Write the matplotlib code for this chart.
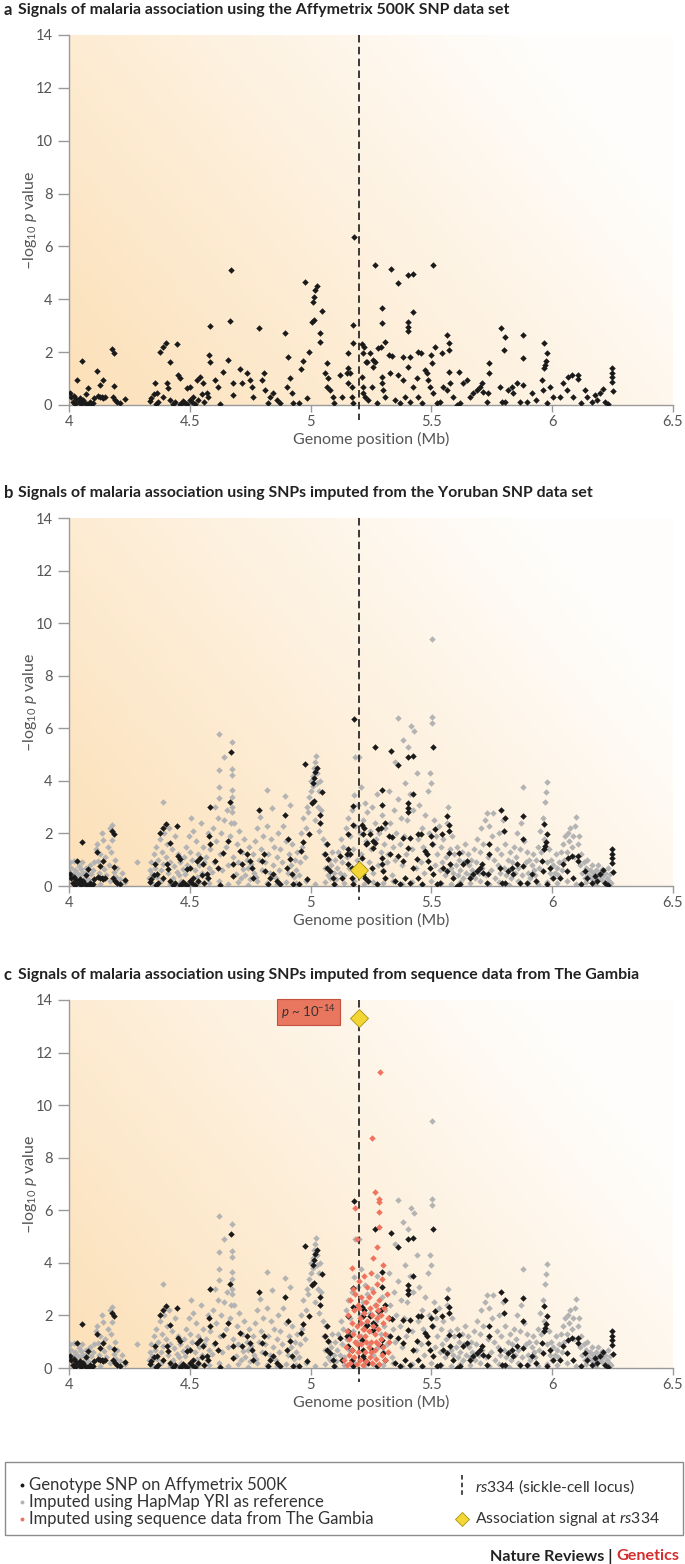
#!/usr/bin/python

# Malaria association signals around the sickle-cell locus
#
# Three stacked panels: Affymetrix 500K SNPs, then SNPs imputed from
# HapMap YRI, then SNPs imputed from Gambian sequence data.

import numpy as np
import matplotlib
matplotlib.use('Agg')
from matplotlib import pyplot as plt
from matplotlib.lines import Line2D
from matplotlib.patches import Rectangle

plt.rcParams['font.family'] = ['Lato', 'DejaVu Sans']
plt.rcParams['mathtext.fontset'] = 'custom'
plt.rcParams['mathtext.rm'] = 'Lato'
plt.rcParams['mathtext.it'] = 'Lato:italic'

# ---- data (genome position in Mb, -log10 p) ----

rs334_pos = 5.2
rs334_b = 0.6
rs334_c = 13.3

# genotyped SNPs on Affymetrix 500K (black, in every panel)
genotyped = [
    (4.004, 0.44), (4.01, 0.30), (4.015, 0.12), (4.02, 0.35), (4.025, 0.05), (4.03, 0.22),
    (4.034, 0.95), (4.04, 0.10), (4.045, 0.28), (4.05, 0.02), (4.052, 1.68), (4.055, 0.15),
    (4.06, 0.19), (4.065, 0.08), (4.07, 0.40), (4.075, 0.03), (4.08, 0.63), (4.085, 0.12),
    (4.09, 0.05), (4.10, 0.06), (4.105, 0.25), (4.117, 1.30), (4.12, 0.35), (4.128, 0.76),
    (4.13, 0.30), (4.135, 0.32), (4.142, 0.95), (4.14, 0.28), (4.15, 0.30), (4.177, 2.11),
    (4.188, 1.96), (4.186, 0.73), (4.183, 0.32), (4.19, 0.20), (4.20, 0.12), (4.21, 0.06),
    (4.232, 0.21),
    (4.335, 0.15), (4.34, 0.25), (4.35, 0.40), (4.356, 0.82), (4.36, 0.05), (4.363, 0.44),
    (4.37, 0.10), (4.377, 2.02), (4.388, 2.21), (4.39, 0.30), (4.401, 2.36), (4.404, 0.82),
    (4.411, 0.63), (4.418, 1.64), (4.42, 0.20), (4.43, 0.05), (4.44, 0.12), (4.446, 2.30),
    (4.452, 1.14), (4.459, 1.01), (4.46, 0.03), (4.466, 0.06), (4.47, 0.15), (4.48, 0.08),
    (4.487, 0.63), (4.49, 0.02), (4.50, 0.19), (4.501, 0.70), (4.51, 0.10), (4.514, 0.31),
    (4.52, 0.05), (4.528, 0.95), (4.535, 0.20), (4.542, 1.07), (4.55, 0.40), (4.556, 0.82),
    (4.56, 0.10), (4.57, 0.44), (4.575, 0.30),
    (4.581, 1.89), (4.584, 1.61), (4.584, 3.00), (4.604, 0.95), (4.618, 0.69), (4.625, 0.02),
    (4.639, 1.26), (4.659, 1.70), (4.666, 3.18), (4.67, 5.11), (4.68, 0.82), (4.68, 0.38),
    (4.708, 1.35), (4.715, 0.82), (4.735, 1.20), (4.749, 0.95), (4.756, 0.69), (4.763, 0.31),
    (4.786, 2.90), (4.797, 0.95), (4.807, 1.20), (4.811, 0.57), (4.825, 0.06), (4.832, 0.31),
    (4.846, 0.44), (4.859, 0.19), (4.873, 0.06), (4.894, 2.71), (4.901, 0.69), (4.905, 1.80),
    (4.915, 1.01), (4.922, 0.44), (4.929, 0.06), (4.95, 0.06), (4.96, 1.35), (4.97, 1.68),
    (4.977, 4.64), (4.984, 0.25), (4.993, 1.99), (5.005, 3.15), (5.009, 3.91), (5.014, 3.22),
    (5.015, 4.10), (5.018, 4.35), (5.025, 4.50), (5.039, 2.71), (5.039, 2.40), (5.046, 3.57),
    (5.06, 1.20), (5.067, 0.69), (5.066, 1.58), (5.074, 1.01), (5.08, 0.57), (5.092, 0.31),
    (5.097, 0.06), (5.121, 1.14), (5.128, 0.31),
    (5.181, 6.37), (5.177, 3.03), (5.174, 2.33), (5.156, 1.96), (5.156, 1.39), (5.163, 1.20),
    (5.17, 0.69), (5.177, 0.06), (5.213, 2.31), (5.221, 2.21), (5.229, 1.61), (5.26, 1.70),
    (5.246, 1.96), (5.28, 2.15), (5.211, 1.07), (5.218, 0.44), (5.253, 0.69),
    (5.267, 5.30), (5.331, 5.15), (5.363, 4.60), (5.402, 4.92), (5.423, 4.95), (5.508, 5.30),
    (5.297, 3.66), (5.297, 3.09), (5.423, 3.51), (5.405, 3.15), (5.405, 2.96), (5.405, 2.80),
    (5.29, 2.21), (5.308, 2.40), (5.326, 1.89), (5.336, 1.85), (5.384, 1.83), (5.411, 1.83),
    (5.446, 1.99), (5.457, 1.96), (5.497, 1.89), (5.515, 2.18), (5.543, 1.96), (5.566, 2.65),
    (5.573, 2.33), (5.574, 2.08), (5.788, 2.90), (5.805, 2.58), (5.802, 2.08), (5.88, 2.65),
    (5.88, 1.79), (5.967, 2.36), (5.977, 1.96), (5.974, 1.68), (5.97, 1.51), (5.967, 1.39),
    (5.738, 1.58), (5.738, 1.20), (5.574, 1.24), (5.616, 1.24), (6.246, 1.39), (6.249, 1.20),
    (6.249, 1.05), (6.249, 0.88), (6.253, 0.54), (6.067, 1.07), (6.08, 1.14), (6.105, 1.14),
    (6.105, 0.97), (6.136, 0.57), (6.177, 0.38), (6.212, 0.59),
    (5.15, 1.20), (5.156, 0.82), (5.17, 0.31), (5.218, 1.96), (5.218, 0.69), (5.225, 0.31),
    (5.232, 1.64), (5.239, 0.19), (5.26, 1.45), (5.267, 1.64), (5.273, 0.06), (5.294, 1.07),
    (5.294, 0.82), (5.301, 0.57), (5.308, 0.31), (5.328, 1.20), (5.35, 0.19), (5.363, 1.14),
    (5.37, 0.06), (5.384, 0.95), (5.39, 0.31), (5.405, 1.45), (5.411, 0.12), (5.425, 0.69),
    (5.439, 1.01), (5.446, 0.31), (5.46, 0.06), (5.474, 1.33), (5.48, 1.20), (5.487, 0.95),
    (5.494, 0.69), (5.501, 1.58), (5.508, 0.44), (5.522, 0.06), (5.535, 0.12), (5.549, 0.69),
    (5.563, 0.57), (5.577, 0.82), (5.59, 0.31), (5.604, 0.01), (5.618, 0.06), (5.632, 0.82),
    (5.646, 0.95), (5.66, 0.31), (5.673, 0.44), (5.687, 0.57), (5.701, 0.69), (5.708, 0.82),
    (5.715, 0.50), (5.729, 0.12), (5.735, 0.44), (5.784, 0.69), (5.791, 0.12), (5.805, 0.12),
    (5.819, 0.57), (5.833, 0.69), (5.839, 0.44), (5.853, 0.82), (5.867, 0.12), (5.878, 0.76),
    (5.894, 0.12), (5.915, 0.44), (5.935, 0.19), (5.956, 0.95), (5.963, 0.57), (5.977, 0.06),
    (5.991, 0.69), (6.005, 0.31), (6.032, 0.31), (6.046, 0.82), (6.06, 0.57), (6.087, 0.31),
    (6.121, 0.06), (6.142, 0.31), (6.163, 0.12), (6.184, 0.19), (6.198, 0.44), (6.218, 0.12),
    (6.232, 0.04),
]

# imputed with HapMap YRI as reference (grey, panels b and c)
imputed_yri = [
    (4.00, 0.55), (4.005, 0.9), (4.01, 0.7), (4.015, 0.45), (4.02, 0.95), (4.025, 0.6),
    (4.03, 0.3), (4.035, 0.5), (4.04, 0.75), (4.045, 0.4), (4.05, 0.65), (4.055, 0.9),
    (4.06, 0.5), (4.065, 0.3), (4.07, 0.7), (4.075, 0.55), (4.08, 0.25), (4.085, 0.8),
    (4.09, 0.45), (4.095, 0.2), (4.10, 0.6), (4.105, 0.9), (4.11, 1.4), (4.115, 1.6),
    (4.12, 0.95), (4.125, 0.5), (4.13, 1.2), (4.135, 2.0), (4.14, 1.75), (4.145, 0.65),
    (4.15, 1.1), (4.155, 0.4), (4.16, 1.5), (4.165, 0.8), (4.17, 2.2), (4.175, 1.3),
    (4.177, 2.32), (4.18, 1.75), (4.185, 0.55), (4.19, 1.0), (4.195, 0.35), (4.2, 0.7),
    (4.21, 0.25), (4.22, 0.5), (4.23, 0.15), (4.283, 0.92),
    (4.33, 0.3), (4.335, 0.6), (4.34, 0.9), (4.345, 0.45), (4.35, 1.2), (4.355, 0.7),
    (4.36, 1.5), (4.365, 0.35), (4.37, 1.0), (4.375, 1.8), (4.38, 0.6), (4.385, 1.3),
    (4.388, 3.2), (4.39, 0.85), (4.395, 2.0), (4.40, 1.1), (4.405, 1.6), (4.41, 0.5),
    (4.415, 2.2), (4.42, 0.9), (4.425, 1.4), (4.43, 0.3), (4.435, 0.75), (4.44, 1.9),
    (4.445, 0.55), (4.45, 1.2), (4.455, 0.4), (4.46, 0.9), (4.465, 0.2), (4.47, 0.65),
    (4.475, 1.1), (4.48, 0.45), (4.485, 1.5), (4.49, 0.8), (4.495, 1.9), (4.50, 1.3),
    (4.505, 2.6), (4.51, 1.0), (4.515, 2.1), (4.52, 0.6), (4.525, 1.7), (4.53, 0.35),
    (4.535, 1.2), (4.54, 0.8), (4.545, 2.4), (4.55, 0.5), (4.555, 1.5), (4.56, 0.9),
    (4.565, 1.1), (4.57, 0.3), (4.575, 2.0), (4.58, 0.7),
    (4.585, 1.4), (4.59, 0.55), (4.595, 2.2), (4.60, 0.9), (4.605, 3.0), (4.61, 1.7),
    (4.615, 2.6), (4.62, 3.33), (4.62, 3.78), (4.62, 4.41), (4.622, 5.78), (4.625, 1.2),
    (4.63, 2.0), (4.635, 0.6), (4.64, 2.5), (4.643, 4.92), (4.65, 1.5), (4.655, 2.9),
    (4.66, 0.8), (4.665, 1.9), (4.67, 2.38), (4.676, 2.83), (4.676, 3.02), (4.676, 3.40),
    (4.676, 3.65), (4.676, 4.22), (4.676, 4.47), (4.676, 5.49), (4.68, 1.1), (4.685, 2.4),
    (4.69, 0.45), (4.695, 1.6), (4.70, 0.9), (4.705, 2.1), (4.71, 0.3), (4.715, 1.3),
    (4.72, 0.65), (4.725, 1.8), (4.73, 0.4), (4.735, 1.0), (4.74, 0.7), (4.745, 1.5),
    (4.75, 0.25), (4.755, 0.85), (4.76, 1.2), (4.765, 0.5), (4.77, 1.7), (4.775, 0.35),
    (4.78, 2.2), (4.785, 1.0), (4.79, 2.64), (4.795, 1.4), (4.80, 0.6), (4.805, 1.9),
    (4.81, 0.9), (4.818, 3.65), (4.82, 2.3), (4.825, 1.2), (4.83, 0.5), (4.835, 1.8),
    (4.84, 2.95), (4.845, 0.8), (4.85, 1.5), (4.855, 0.3), (4.86, 1.1), (4.865, 2.0),
    (4.87, 0.6), (4.875, 1.4), (4.88, 0.9), (4.885, 2.3), (4.894, 3.42), (4.90, 1.7),
    (4.905, 0.5), (4.91, 1.2), (4.915, 3.08), (4.92, 0.8), (4.925, 1.6), (4.93, 0.35),
    (4.935, 1.0), (4.94, 0.6), (4.945, 1.3), (4.95, 0.4), (4.955, 0.9), (4.96, 2.0),
    (4.965, 1.5), (4.97, 2.6), (4.975, 1.1), (4.98, 2.2), (4.985, 3.0), (4.99, 2.8),
    (4.995, 3.4), (5.00, 3.6), (5.003, 4.0), (5.006, 3.2), (5.01, 4.2), (5.012, 3.8),
    (5.015, 4.5), (5.018, 2.5), (5.02, 4.7), (5.022, 4.94), (5.025, 3.9), (5.028, 4.3),
    (5.03, 3.0), (5.033, 3.6), (5.036, 2.1), (5.04, 4.0), (5.045, 2.9), (5.05, 1.8),
    (5.055, 1.2), (5.06, 0.7), (5.065, 1.6), (5.07, 0.4), (5.075, 1.0), (5.08, 0.3),
    (5.085, 0.8), (5.09, 1.3), (5.095, 0.5), (5.10, 1.0), (5.105, 0.25), (5.11, 0.7),
    (5.115, 1.3), (5.12, 0.5), (5.125, 1.8), (5.13, 0.9), (5.135, 1.5), (5.14, 0.4),
    (5.145, 2.2), (5.15, 1.1), (5.155, 2.6), (5.16, 0.7), (5.165, 1.9), (5.17, 2.9),
    (5.175, 1.4), (5.181, 3.46), (5.182, 4.92), (5.185, 2.3), (5.19, 1.0), (5.195, 3.1),
    (5.2, 4.92), (5.205, 2.0), (5.209, 3.78), (5.21, 1.2), (5.215, 2.5), (5.22, 0.6),
    (5.225, 3.14), (5.23, 1.7), (5.235, 2.8), (5.24, 0.9), (5.245, 2.1), (5.25, 1.4),
    (5.255, 3.0), (5.26, 0.5), (5.265, 2.4), (5.27, 1.8), (5.275, 3.5), (5.28, 0.8),
    (5.285, 2.0), (5.29, 1.3), (5.295, 2.7), (5.30, 0.6), (5.305, 1.6), (5.31, 2.2),
    (5.315, 0.9), (5.32, 1.2), (5.325, 3.6), (5.33, 2.4), (5.335, 0.4), (5.34, 1.5),
    (5.345, 2.9), (5.349, 4.73), (5.35, 1.0),
    (5.355, 2.0), (5.36, 3.3), (5.363, 6.38), (5.37, 1.6), (5.375, 2.6), (5.38, 0.8),
    (5.383, 5.55), (5.385, 1.9), (5.39, 3.9), (5.395, 1.2), (5.40, 2.5), (5.404, 5.30),
    (5.41, 3.5), (5.415, 6.09), (5.42, 1.4), (5.425, 2.9), (5.43, 5.90), (5.435, 0.7),
    (5.44, 4.3), (5.445, 1.8), (5.45, 3.1), (5.455, 0.9), (5.46, 2.2), (5.465, 1.5),
    (5.47, 0.5), (5.475, 2.7), (5.48, 1.2), (5.485, 3.6), (5.49, 2.0), (5.495, 4.3),
    (5.50, 3.9), (5.501, 6.22), (5.501, 6.42), (5.502, 9.40), (5.505, 1.6), (5.51, 2.5),
    (5.515, 0.8), (5.52, 1.9), (5.525, 1.2), (5.53, 2.3), (5.535, 0.6), (5.54, 1.5),
    (5.545, 0.9), (5.55, 1.8), (5.555, 0.4), (5.56, 1.1), (5.565, 2.4), (5.57, 3.02),
    (5.575, 1.4), (5.58, 0.7), (5.585, 1.9), (5.59, 0.5), (5.595, 1.2), (5.60, 0.8),
    (5.605, 1.5), (5.61, 0.4), (5.615, 1.0), (5.62, 0.6), (5.625, 1.3), (5.63, 0.3),
    (5.635, 0.9), (5.64, 1.6), (5.645, 0.5), (5.65, 1.2), (5.655, 0.8), (5.66, 0.4),
    (5.665, 1.0), (5.67, 0.6), (5.675, 1.4), (5.68, 0.3), (5.685, 0.9), (5.69, 1.8),
    (5.695, 0.5), (5.70, 1.3), (5.705, 2.2), (5.71, 0.7), (5.715, 1.6), (5.72, 2.5),
    (5.725, 0.4), (5.73, 2.76), (5.735, 1.1), (5.74, 2.3), (5.745, 0.6), (5.75, 1.9),
    (5.756, 2.76), (5.76, 1.0), (5.765, 0.3), (5.77, 1.4), (5.775, 0.8), (5.78, 2.0),
    (5.785, 0.5), (5.79, 1.2), (5.795, 2.5), (5.80, 0.7), (5.805, 1.6), (5.81, 0.4),
    (5.815, 1.0), (5.82, 0.6), (5.825, 1.3), (5.83, 0.3), (5.835, 0.9), (5.84, 1.5),
    (5.845, 0.5), (5.85, 1.1), (5.855, 2.0), (5.86, 0.7), (5.865, 1.4), (5.87, 2.4),
    (5.875, 0.4), (5.88, 3.78), (5.885, 1.7), (5.89, 0.9), (5.895, 1.3), (5.90, 0.5),
    (5.905, 1.0), (5.91, 0.3), (5.915, 0.8), (5.92, 1.2), (5.925, 0.6), (5.93, 0.4),
    (5.935, 1.0), (5.94, 1.5), (5.945, 0.7), (5.95, 2.1), (5.955, 1.3), (5.96, 2.6),
    (5.965, 1.8), (5.97, 3.2), (5.974, 3.56), (5.977, 3.97), (5.98, 0.9), (5.985, 1.4),
    (5.99, 0.5), (5.995, 1.0), (6.00, 0.3), (6.005, 0.8), (6.01, 0.5), (6.015, 1.2),
    (6.02, 0.7), (6.025, 0.4), (6.03, 0.9), (6.035, 1.3), (6.04, 0.6), (6.045, 1.6),
    (6.05, 1.0), (6.055, 1.9), (6.06, 1.3), (6.065, 2.0), (6.07, 1.7), (6.075, 2.2),
    (6.08, 1.5), (6.085, 1.9), (6.09, 1.1), (6.095, 2.3), (6.10, 2.64), (6.105, 1.6),
    (6.11, 1.9), (6.115, 0.8), (6.12, 1.2), (6.125, 0.5), (6.13, 0.9), (6.135, 0.3),
    (6.14, 0.7), (6.145, 1.0), (6.15, 0.4), (6.155, 0.6), (6.16, 0.3), (6.165, 0.8),
    (6.17, 0.5), (6.175, 0.2), (6.18, 0.6), (6.185, 0.35), (6.19, 0.8), (6.195, 0.5),
    (6.2, 0.25), (6.205, 0.65), (6.21, 0.4), (6.215, 0.15), (6.22, 0.5), (6.225, 0.3),
    (6.23, 0.7), (6.235, 0.2), (6.24, 0.45), (6.245, 0.1),
    (4.012, 0.1), (4.048, 0.15), (4.09, 0.12), (4.13, 0.08), (4.17, 0.18), (4.205, 0.05),
    (4.345, 0.1), (4.38, 0.18), (4.42, 0.08), (4.46, 0.12), (4.5, 0.05), (4.54, 0.15),
    (4.58, 0.1), (4.62, 0.2), (4.66, 0.08), (4.7, 0.14), (4.74, 0.05), (4.78, 0.18),
    (4.82, 0.1), (4.86, 0.06), (4.9, 0.15), (4.94, 0.1), (4.98, 0.2), (5.02, 0.08),
    (5.06, 0.15), (5.1, 0.05), (5.14, 0.12), (5.18, 0.18), (5.22, 0.06), (5.26, 0.15),
    (5.3, 0.1), (5.34, 0.2), (5.38, 0.08), (5.42, 0.14), (5.46, 0.05), (5.5, 0.18),
    (5.54, 0.1), (5.58, 0.06), (5.62, 0.15), (5.66, 0.1), (5.7, 0.2), (5.74, 0.08),
    (5.78, 0.14), (5.82, 0.05), (5.86, 0.18), (5.9, 0.1), (5.94, 0.06), (5.98, 0.15),
    (6.02, 0.1), (6.06, 0.2), (6.1, 0.08), (6.14, 0.14), (6.18, 0.05), (6.22, 0.12),
]

# imputed with Gambian sequence data (red, panel c only)
imputed_gambia = [
    (5.287, 11.25), (5.253, 8.74), (5.268, 6.71), (5.284, 6.43), (5.284, 6.30), (5.184, 6.10),
    (5.284, 5.92), (5.282, 5.37), (5.19, 4.9), (5.275, 4.6), (5.26, 4.2), (5.17, 3.8),
    (5.30, 3.9),
    (5.14, 0.3), (5.145, 0.8), (5.15, 1.4), (5.15, 0.1), (5.155, 2.0), (5.16, 0.5),
    (5.16, 1.1), (5.165, 2.6), (5.165, 0.2), (5.17, 1.7), (5.17, 0.7), (5.175, 3.0),
    (5.175, 1.3), (5.18, 0.4), (5.18, 2.2), (5.185, 1.0), (5.185, 2.8), (5.19, 0.15),
    (5.19, 1.6), (5.195, 2.4), (5.195, 0.6), (5.2, 1.2), (5.2, 3.3), (5.205, 0.3),
    (5.205, 1.9), (5.21, 2.7), (5.21, 0.9), (5.215, 1.5), (5.215, 0.1), (5.22, 2.1),
    (5.22, 3.5), (5.225, 0.6), (5.225, 1.2), (5.23, 2.5), (5.23, 0.25), (5.235, 1.8),
    (5.235, 3.1), (5.24, 0.8), (5.24, 1.4), (5.245, 2.3), (5.245, 0.4), (5.25, 3.6),
    (5.25, 1.0), (5.255, 2.0), (5.255, 0.2), (5.26, 1.6), (5.26, 2.9), (5.265, 0.7),
    (5.265, 1.3), (5.27, 2.4), (5.27, 0.35), (5.275, 1.9), (5.275, 3.2), (5.28, 0.9),
    (5.28, 1.5), (5.285, 2.6), (5.285, 0.15), (5.29, 1.1), (5.29, 2.0), (5.295, 0.5),
    (5.295, 3.4), (5.3, 1.7), (5.3, 0.8), (5.305, 2.3), (5.31, 0.3), (5.31, 1.3),
    (5.315, 2.8), (5.32, 0.6), (5.32, 1.9), (5.325, 1.0), (5.19, 0.9), (5.21, 1.7),
    (5.23, 1.0), (5.25, 0.6), (5.27, 1.0), (5.28, 2.2), (5.24, 2.7), (5.22, 1.5),
    (5.2, 2.3),
]

titles = [
    'Signals of malaria association using the Affymetrix 500K SNP data set',
    'Signals of malaria association using SNPs imputed from the Yoruban SNP data set',
    'Signals of malaria association using SNPs imputed from sequence data from The Gambia',
]
panel_letters = ['a', 'b', 'c']
x_ticks = [4, 4.5, 5, 5.5, 6, 6.5]
x_tick_labels = ['4', '4.5', '5', '5.5', '6', '6.5']
y_ticks = [0, 2, 4, 6, 8, 10, 12, 14]

# ---- style ----
W, H = 685, 1564
BLACK = '#1a1a1a'
GREY = '#b3b3b3'
RED = '#f0735f'
YELLOW = '#f3d634'
AXIS = '#9a9a9a'
TEXT = '#555555'


def fx(px):
    return px / float(W)


def fy(py):
    return 1 - py / float(H)


# orange wash behind the points, fading towards the top right
def background(ax):
    u = np.linspace(0, 1, 300)
    v = np.linspace(0, 1, 200)
    U, V = np.meshgrid(u, v)
    t = np.clip(1 - 0.75 * U - 0.38 * V, 0.04, 1)
    orange = np.array([252, 224, 184]) / 255.0
    img = 1 - t[..., None] * (1 - orange)
    ax.imshow(img, extent=[4, 6.5, 0, 14], origin='lower', aspect='auto', zorder=0)


def plot_points(ax, pts, color, z):
    x, y = zip(*pts)
    ax.plot(x, y, linestyle='none', marker='D', markersize=3.3, mew=0,
            color=color, zorder=z)


def make_panel(fig, top, bottom, idx):
    ax = fig.add_axes([fx(69), fy(bottom), fx(673 - 69), (bottom - top) / float(H)])
    background(ax)
    ax.set_xlim(4, 6.5)
    ax.set_ylim(0, 14)
    for s in ['top', 'right']:
        ax.spines[s].set_visible(False)
    for s in ['left', 'bottom']:
        ax.spines[s].set_color(AXIS)
        ax.spines[s].set_linewidth(1.0)
    ax.set_xticks(x_ticks)
    ax.set_xticklabels(x_tick_labels)
    ax.set_yticks(y_ticks)
    ax.tick_params(axis='both', colors=AXIS, labelcolor=TEXT, labelsize=10.5,
                   length=8, width=1.0)
    ax.tick_params(axis='x', length=5, pad=2)
    ax.tick_params(axis='y', pad=4)
    ax.set_ylabel(r'–log$_{10}$ $\mathit{p}$ value', color=TEXT, fontsize=11.5)
    ax.yaxis.set_label_coords(-0.05, 0.5)
    fig.text(fx(371), fy(bottom + 34), 'Genome position (Mb)', color=TEXT,
             fontsize=11.5, ha='center', va='center')

    # sickle-cell locus
    ax.plot([rs334_pos, rs334_pos], [14, -0.55], color=BLACK, lw=1.2,
            dashes=(4.5, 2.6), clip_on=False, zorder=3)

    if idx >= 1:
        plot_points(ax, imputed_yri, GREY, 2)
    plot_points(ax, genotyped, BLACK, 4)
    if idx == 2:
        plot_points(ax, imputed_gambia, RED, 5)

    if idx == 1:
        ax.plot(rs334_pos, rs334_b, marker='D', markersize=9, color=YELLOW,
                mec='#a39414', mew=0.6, zorder=6)
    if idx == 2:
        ax.plot(rs334_pos, rs334_c, marker='D', markersize=9, color=YELLOW,
                mec='#a39414', mew=0.6, zorder=6, clip_on=False)
        ax.text(4.99, 13.55, r'$\mathit{p}$ ~ 10$^{-14}$', ha='center', va='center',
                fontsize=9.5, color='#333333', zorder=7,
                bbox=dict(boxstyle='square,pad=0.3', fc='#e9765f', ec='#c4503f', lw=0.8))

    # panel heading
    ty = top - 25
    fig.text(fx(4), fy(ty), panel_letters[idx], fontsize=12, fontweight='bold',
             color='#222222', va='center', ha='left')
    fig.text(fx(18), fy(ty), titles[idx], fontsize=11.4, fontweight='bold',
             color='#222222', va='center', ha='left')
    return ax


def legend(fig):
    fig.patches.append(Rectangle((fx(5), fy(1535)), fx(678), (1535 - 1462) / float(H),
                                 transform=fig.transFigure, fill=False,
                                 ec='#8c8c8c', lw=1.0))
    rows = [(1485, BLACK, 'Genotype SNP on Affymetrix 500K'),
            (1502, GREY, 'Imputed using HapMap YRI as reference'),
            (1519, RED, 'Imputed using sequence data from The Gambia')]
    for py, c, label in rows:
        fig.lines.append(Line2D([fx(22)], [fy(py)], transform=fig.transFigure,
                                marker='o', markersize=2.8, mew=0, color=c,
                                linestyle='none'))
        fig.text(fx(29), fy(py), label, fontsize=12, color='#333333',
                 va='center', ha='left')
    fig.lines.append(Line2D([fx(462), fx(462)], [fy(1475), fy(1497)],
                            transform=fig.transFigure, color=BLACK, lw=1.1,
                            dashes=(3, 2)))
    fig.text(fx(475), fy(1487), r'$\mathit{rs334}$ (sickle-cell locus)', fontsize=11.3,
             color='#333333', va='center', ha='left')
    fig.lines.append(Line2D([fx(462)], [fy(1519)], transform=fig.transFigure,
                            marker='D', markersize=7.5, color=YELLOW, mec='#a39414',
                            mew=0.6, linestyle='none'))
    fig.text(fx(475), fy(1519), r'Association signal at $\mathit{rs334}$', fontsize=11.3,
             color='#333333', va='center', ha='left')


def main():
    fig = plt.figure(figsize=(W / 100.0, H / 100.0), dpi=100)
    make_panel(fig, 35, 405, 0)
    make_panel(fig, 518, 886, 1)
    make_panel(fig, 1000, 1368, 2)
    legend(fig)
    fig.text(fx(612), fy(1556), 'Nature Reviews |', fontsize=11.6, fontweight='bold',
             color='#222222', va='center', ha='right')
    fig.text(fx(616), fy(1556), 'Genetics', fontsize=11.6, fontweight='bold',
             color='#d42e2e', va='center', ha='left')
    fig.savefig('out.png', dpi=100)


if __name__ == '__main__':
    main()
